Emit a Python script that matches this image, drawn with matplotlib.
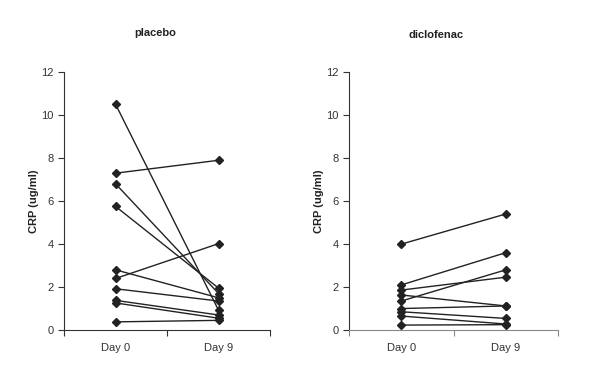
import matplotlib
matplotlib.use('Agg')
from matplotlib import pyplot as plt

days = ['Day 0', 'Day 9']
placebo_day0 = [10.5, 7.3, 6.8, 5.75, 2.4, 2.8, 1.92, 1.38, 1.26, 0.38]
placebo_day9 = [0.92, 7.9, 1.7, 1.95, 4.02, 1.5, 1.35, 0.7, 0.55, 0.45]
diclo_day0 = [4.0, 2.1, 1.86, 1.35, 1.63, 1.0, 0.85, 0.65, 0.23]
diclo_day9 = [5.4, 3.6, 2.46, 2.8, 1.12, 1.12, 0.54, 0.28, 0.25]

plt.rcParams['font.family'] = ['Liberation Sans', 'DejaVu Sans']
fig = plt.figure(figsize=(6, 3.86), dpi=100)
ax1 = fig.add_axes([0.107, 0.145, 0.343, 0.668])
ax2 = fig.add_axes([0.582, 0.145, 0.348, 0.668])


def draw(ax, d0, d9, axcol):
    for a, b in zip(d0, d9):
        ax.plot([0.5, 1.5], [a, b], '-', color='#222222', lw=1,
                marker='D', ms=4.5, mfc='#222222', mec='#222222')
    ax.set_xlim(0, 2)
    ax.set_ylim(0, 12)
    ax.set_yticks(range(0, 13, 2))
    ax.set_xticks([0, 1, 2])
    ax.set_xticklabels([])
    ax.set_xticks([0.5, 1.5], minor=True)
    ax.set_xticklabels(days, minor=True)
    ax.tick_params(axis='x', which='minor', length=0, pad=9, labelsize=8, labelcolor='#333333')
    ax.tick_params(axis='x', which='major', length=4, direction='out', color=axcol)
    ax.tick_params(axis='y', length=4, direction='out', labelsize=8, labelcolor='#333333', color='#333333')
    for s in ['top', 'right']:
        ax.spines[s].set_visible(False)
    ax.spines['left'].set_color('#333333')
    ax.spines['bottom'].set_color(axcol)
    ax.set_ylabel('CRP (ug/ml)', fontsize=8, fontweight='bold', color='#222222', labelpad=2)


draw(ax1, placebo_day0, placebo_day9, '#333333')
draw(ax2, diclo_day0, diclo_day9, '#888888')
fig.text(155 / 600, 1 - 33 / 386, 'placebo', ha='center', va='center',
         fontsize=8, fontweight='bold', color='#222222')
fig.text(436 / 600, 1 - 35 / 386, 'diclofenac', ha='center', va='center',
         fontsize=8, fontweight='bold', color='#222222')
fig.savefig('out.png', dpi=100)
